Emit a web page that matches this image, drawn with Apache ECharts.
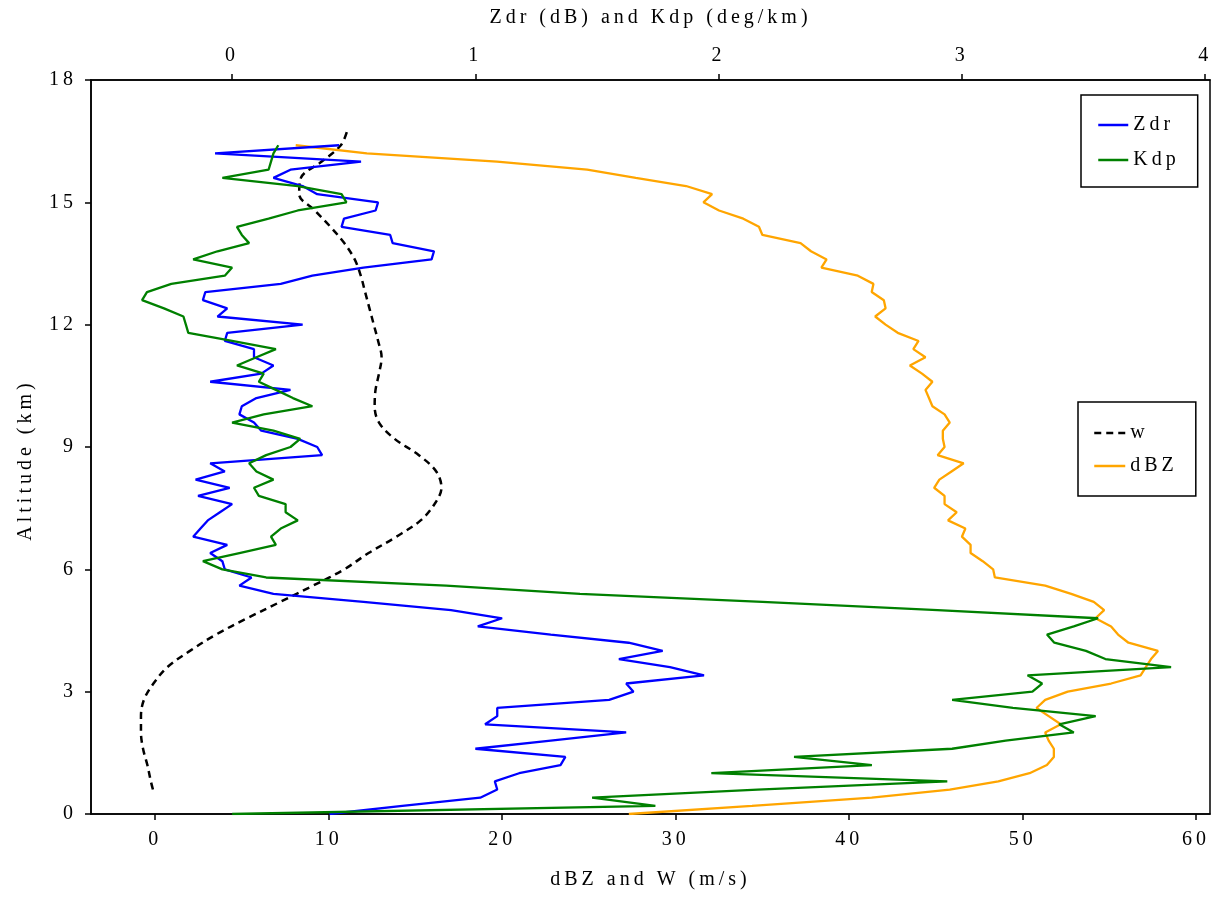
<!DOCTYPE html>
<html>
<head>
<meta charset="utf-8">
<title>Vertical profile: dBZ, W, Zdr, Kdp</title>
<script src="https://cdn.jsdelivr.net/npm/echarts@6/dist/echarts.min.js"></script>
<style>
  html, body { margin: 0; padding: 0; background: #fff; overflow: hidden; }
  #chart { width: 1216px; height: 897px; }
</style>
</head>
<body>
<div id="chart"></div>
<script>
// Spaced lettering for all chart text: every time a canvas font is set,
// a fixed letter spacing is applied too, so measuring and drawing agree.
(function () {
  const proto = window.CanvasRenderingContext2D && CanvasRenderingContext2D.prototype;
  if (!proto || !('letterSpacing' in proto)) return;
  const desc = Object.getOwnPropertyDescriptor(proto, 'font');
  if (!desc || !desc.set) return;
  Object.defineProperty(proto, 'font', {
    configurable: true,
    get() { return desc.get.call(this); },
    set(v) { desc.set.call(this, v); this.letterSpacing = '4px'; }
  });
})();

// Altitude levels (km) shared by the radar profiles
const altitude = [
  0.0, 0.2, 0.4, 0.6, 0.8, 1.0, 1.2, 1.4, 1.6, 1.8,
  2.0, 2.2, 2.4, 2.6, 2.8, 3.0, 3.2, 3.4, 3.6, 3.8,
  4.0, 4.2, 4.4, 4.6, 4.8, 5.0, 5.2, 5.4, 5.6, 5.8,
  6.0, 6.2, 6.4, 6.6, 6.8, 7.0, 7.2, 7.4, 7.6, 7.8,
  8.0, 8.2, 8.4, 8.6, 8.8, 9.0, 9.2, 9.4, 9.6, 9.8,
  10.0, 10.2, 10.4, 10.6, 10.8, 11.0, 11.2, 11.4, 11.6, 11.8,
  12.0, 12.2, 12.4, 12.6, 12.8, 13.0, 13.2, 13.4, 13.6, 13.8,
  14.0, 14.2, 14.4, 14.6, 14.8, 15.0, 15.2, 15.4, 15.6, 15.8,
  16.0, 16.2, 16.4
];

// Differential reflectivity (dB)
const zdr = [
  0.40, 0.70, 1.02, 1.09, 1.08, 1.18, 1.35, 1.37, 1.00, 1.31,
  1.62, 1.04, 1.09, 1.09, 1.55, 1.65, 1.62, 1.94, 1.80, 1.59,
  1.77, 1.63, 1.31, 1.01, 1.11, 0.90, 0.54, 0.17, 0.03, 0.08,
  -0.03, -0.04, -0.09, -0.02, -0.16, -0.13, -0.10, -0.05, 0.00, -0.14,
  -0.01, -0.15, -0.03, -0.09, 0.37, 0.35, 0.27, 0.12, 0.09, 0.03,
  0.04, 0.10, 0.24, -0.09, 0.12, 0.17, 0.09, 0.09, -0.03, -0.02,
  0.29, -0.06, -0.02, -0.12, -0.11, 0.20, 0.33, 0.54, 0.82, 0.83,
  0.66, 0.65, 0.45, 0.46, 0.59, 0.60, 0.35, 0.29, 0.17, 0.24,
  0.53, -0.07, 0.44
];

// Specific differential phase (deg/km)
const kdp = [
  0.00, 1.74, 1.48, 2.16, 2.94, 1.97, 2.63, 2.31, 2.96, 3.18,
  3.46, 3.40, 3.55, 3.21, 2.96, 3.29, 3.33, 3.27, 3.86, 3.59,
  3.51, 3.38, 3.35, 3.46, 3.56, 2.90, 2.18, 1.43, 0.88, 0.14,
  -0.04, -0.12, 0.03, 0.18, 0.16, 0.20, 0.27, 0.22, 0.22, 0.11,
  0.09, 0.17, 0.10, 0.07, 0.14, 0.24, 0.28, 0.17, 0.00, 0.13,
  0.33, 0.25, 0.18, 0.11, 0.13, 0.02, 0.10, 0.18, 0.00, -0.18,
  -0.19, -0.20, -0.28, -0.37, -0.35, -0.25, -0.03, 0.00, -0.16, -0.06,
  0.07, 0.04, 0.02, 0.15, 0.27, 0.47, 0.45, 0.27, -0.04, 0.15,
  0.16, 0.17, 0.19
];

// Reflectivity (dBZ)
const dbz = [
  27.3, 34.4, 41.3, 45.8, 48.6, 50.4, 51.4, 51.8, 51.8, 51.5,
  51.3, 52.2, 51.5, 50.8, 51.3, 52.6, 55.1, 56.8, 57.1, 57.4,
  57.8, 56.1, 55.5, 55.1, 54.2, 54.7, 54.1, 52.8, 51.3, 48.4,
  48.3, 47.7, 47.0, 47.0, 46.5, 46.7, 45.7, 46.2, 45.5, 45.5,
  44.9, 45.2, 45.9, 46.6, 45.1, 45.5, 45.4, 45.4, 45.8, 45.5,
  44.8, 44.6, 44.4, 44.8, 44.2, 43.5, 44.4, 43.7, 44.0, 42.8,
  42.1, 41.5, 42.1, 42.0, 41.3, 41.4, 40.5, 38.4, 38.7, 37.8,
  37.2, 35.0, 34.8, 33.9, 32.5, 31.6, 32.1, 30.6, 27.7, 24.9,
  19.7, 12.2, 8.1
];

// Vertical velocity W (m/s) and its own altitude levels (km)
const wAltitude = [
  0.6, 0.8, 1.2, 1.6, 2.0, 2.4, 2.8, 3.2, 3.6, 4.0,
  4.4, 4.8, 5.2, 5.6, 6.0, 6.4, 6.8, 7.2, 7.6, 8.0,
  8.4, 8.8, 9.2, 9.6, 10.0, 10.4, 10.8, 11.2, 11.6, 12.0,
  12.4, 12.8, 13.2, 13.6, 14.0, 14.4, 14.8, 15.2, 15.6, 16.0,
  16.4, 16.8
];
const wSpeed = [
  -0.13, -0.25, -0.45, -0.70, -0.82, -0.82, -0.65, -0.10, 0.70, 2.00,
  3.50, 5.30, 7.20, 9.10, 10.90, 12.30, 13.90, 15.30, 16.10, 16.50,
  16.20, 15.20, 13.80, 12.90, 12.65, 12.70, 12.90, 13.05, 12.85, 12.60,
  12.35, 12.10, 11.85, 11.50, 10.90, 10.10, 9.20, 8.30, 8.40, 9.60,
  10.70, 11.10
];

// Tick labels
const altitudeTicks = [0, 3, 6, 9, 12, 15, 18];
const bottomTicks = [0, 10, 20, 30, 40, 50, 60];
const topTicks = [0, 1, 2, 3, 4];

const pairs = (xs, ys) => xs.map((v, i) => [v, ys[i]]);

const FONT = '"Liberation Serif", "DejaVu Serif", serif';
const axisText = { color: '#000', fontFamily: FONT, fontSize: 20 };

const chart = echarts.init(document.getElementById('chart'), null, { renderer: 'canvas' });

chart.setOption({
  backgroundColor: '#fff',
  animation: false,
  grid: {
    left: 91, right: 6, top: 80, bottom: 79,
    show: true, borderColor: '#000', borderWidth: 1.5,
    containLabel: false
  },
  legend: [
    {
      data: ['Zdr', 'Kdp'],
      orient: 'vertical',
      left: 1081, top: 95,
      padding: [18, 18, 15, 16],
      itemGap: 11, itemWidth: 30, itemHeight: 14,
      borderColor: '#000', borderWidth: 1.5,
      itemStyle: { opacity: 0 },
      lineStyle: { width: 2.5 },
      textStyle: { color: '#000', fontFamily: FONT, fontSize: 20 }
    },
    {
      data: ['w', 'dBZ'],
      orient: 'vertical',
      left: 1078, top: 402,
      padding: [19, 18, 18, 15],
      itemGap: 9, itemWidth: 31, itemHeight: 14,
      borderColor: '#000', borderWidth: 1.5,
      itemStyle: { opacity: 0 },
      lineStyle: { width: 2.5 },
      textStyle: { color: '#000', fontFamily: FONT, fontSize: 20 }
    }
  ],
  xAxis: [
    {
      type: 'value',
      position: 'bottom',
      min: -3.7, max: 60.8,
      name: 'dBZ and W (m/s)',
      nameLocation: 'middle',
      nameGap: 54,
      nameTextStyle: axisText,
      axisLine: { show: true, onZero: false, lineStyle: { color: '#000', width: 1.5 } },
      axisTick: { show: true, inside: false, length: 6, customValues: bottomTicks,
                  lineStyle: { color: '#000', width: 1.5 } },
      axisLabel: Object.assign({ margin: 14, customValues: bottomTicks }, axisText),
      splitLine: { show: false }
    },
    {
      type: 'value',
      position: 'top',
      min: -0.58, max: 4.02,
      name: 'Zdr (dB) and Kdp (deg/km)',
      nameLocation: 'middle',
      nameGap: 50,
      nameTextStyle: axisText,
      axisLine: { show: true, onZero: false, lineStyle: { color: '#000', width: 1.5 } },
      axisTick: { show: true, inside: false, length: 6, customValues: topTicks,
                  lineStyle: { color: '#000', width: 1.5 } },
      axisLabel: Object.assign({ margin: 12, customValues: topTicks }, axisText),
      splitLine: { show: false }
    }
  ],
  yAxis: {
    type: 'value',
    position: 'left',
    min: 0, max: 18, interval: 3,
    name: 'Altitude (km)',
    nameLocation: 'middle',
    nameGap: 52,
    nameRotate: 90,
    nameTextStyle: Object.assign({ padding: [0, 26, 0, 0] }, axisText),
    axisLine: { show: true, onZero: false, lineStyle: { color: '#000', width: 1.5 } },
    axisTick: { show: true, inside: false, length: 6, lineStyle: { color: '#000', width: 1.5 } },
    axisLabel: Object.assign({ margin: 14, customValues: altitudeTicks }, axisText),
    splitLine: { show: false }
  },
  series: [
    {
      name: 'w', type: 'line', xAxisIndex: 0, yAxisIndex: 0,
      data: pairs(wSpeed, wAltitude),
      smooth: 0.35, symbol: 'none',
      lineStyle: { color: '#000', width: 2.5, type: [7, 5] },
      itemStyle: { color: '#000' }, z: 3
    },
    {
      name: 'dBZ', type: 'line', xAxisIndex: 0, yAxisIndex: 0,
      data: pairs(dbz, altitude),
      symbol: 'none',
      lineStyle: { color: '#ffa500', width: 2.3 },
      itemStyle: { color: '#ffa500' }, z: 3
    },
    {
      name: 'Zdr', type: 'line', xAxisIndex: 1, yAxisIndex: 0,
      data: pairs(zdr, altitude),
      symbol: 'none',
      lineStyle: { color: '#0000ff', width: 2.3 },
      itemStyle: { color: '#0000ff' }, z: 4
    },
    {
      name: 'Kdp', type: 'line', xAxisIndex: 1, yAxisIndex: 0,
      data: pairs(kdp, altitude),
      symbol: 'none',
      lineStyle: { color: '#008000', width: 2.3 },
      itemStyle: { color: '#008000' }, z: 4
    }
  ]
});
</script>
</body>
</html>
